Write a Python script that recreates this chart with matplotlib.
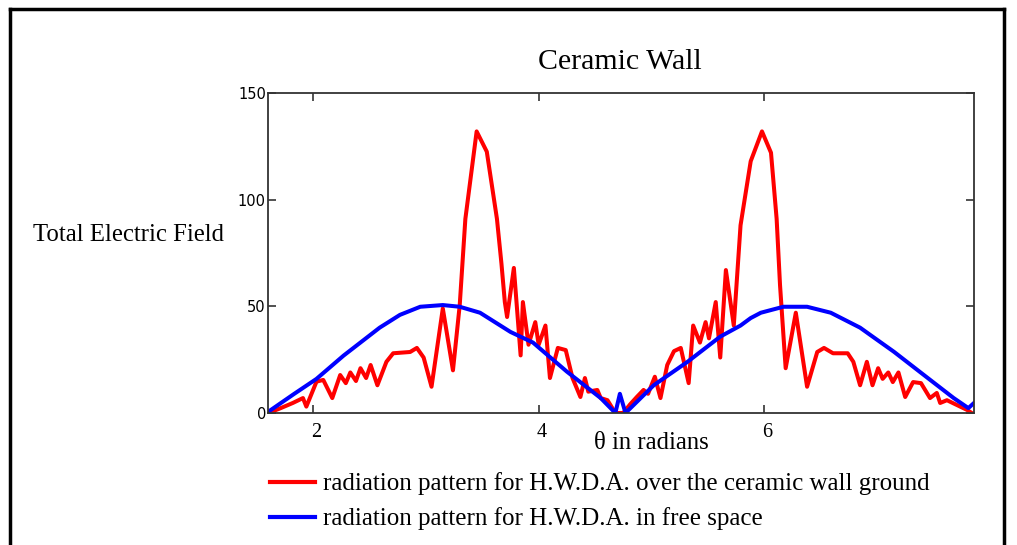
import matplotlib
matplotlib.use("Agg")
import matplotlib.pyplot as plt
from matplotlib.lines import Line2D
from matplotlib.transforms import ScaledTranslation

# ---- data ----
red_x = [1.60, 1.70, 1.82, 1.91, 1.94, 2.03, 2.09, 2.17, 2.24, 2.29, 2.33, 2.38, 2.42, 2.47,
         2.51, 2.57, 2.65, 2.71, 2.86, 2.92, 2.98, 3.05, 3.15, 3.24, 3.30, 3.35, 3.45, 3.54,
         3.63, 3.67, 3.70, 3.72, 3.78, 3.84, 3.86, 3.91, 3.97, 4.00, 4.06, 4.10, 4.17, 4.24,
         4.30, 4.37, 4.41, 4.44, 4.52, 4.55, 4.61, 4.68,
         4.75, 4.81, 4.87, 4.93, 4.97, 5.03, 5.08, 5.14, 5.20, 5.26, 5.33, 5.37, 5.43, 5.48,
         5.51, 5.57, 5.61, 5.66, 5.73, 5.79, 5.88, 5.98, 6.06, 6.11, 6.14, 6.19, 6.28, 6.38,
         6.47, 6.53, 6.61, 6.74, 6.79, 6.85, 6.91, 6.96, 7.01, 7.05, 7.10, 7.14, 7.19, 7.25,
         7.32, 7.39, 7.47, 7.53, 7.56, 7.62, 7.71, 7.80, 7.84]
red_y = [0, 2, 4.7, 7, 3, 14.7, 15.5, 7, 17.8, 14, 19, 15, 21, 16.4,
         22.5, 13, 24, 28, 28.6, 30.5, 26, 12.3, 49, 20, 50.6, 91, 132, 122.5,
         91, 70, 52, 45, 68, 27, 52, 32, 42.6, 32, 41, 16.4, 30.5, 29.5,
         16.4, 7.5, 16.4, 10, 10.8, 7, 6, 0,
         0, 4, 7.5, 10.8, 9, 17, 7, 22.5, 29, 30.5, 14, 41, 33, 42.6,
         35, 52, 26, 67, 41, 88, 118, 132, 122, 91, 60, 21, 47, 12.3,
         28.6, 30.5, 28, 28, 24, 13, 24, 13, 21, 16, 19, 14.5, 19, 7.5,
         14.5, 14, 7, 9.4, 4.7, 6, 3.7, 1.4, 0]

blue_x = [1.60, 1.83, 2.03, 2.27, 2.59, 2.77, 2.95, 3.15, 3.30, 3.48, 3.66, 3.75, 3.95,
          4.25, 4.55, 4.68, 4.72, 4.77, 5.02, 5.32, 5.61, 5.79, 5.88, 5.97, 6.17, 6.38,
          6.59, 6.85, 6.94, 7.15, 7.45, 7.68, 7.81, 7.86]
blue_y = [0.5, 8.9, 16, 26.9, 40, 46, 49.8, 50.6, 49.8, 47, 41, 38, 33,
          19.4, 7, 0, 9, 0, 13, 24, 35.8, 41, 44.5, 47, 49.8, 49.8,
          47, 40, 36.6, 28.7, 16.4, 7, 2.3, 4.7]

x_ticks = [2, 4, 6]
y_ticks = [0, 50, 100, 150]
title = "Ceramic Wall"
y_label = "Total Electric Field"
x_label = "\u03b8 in radians"
red_label = "radiation pattern for H.W.D.A. over the ceramic wall ground"
blue_label = "radiation pattern for H.W.D.A. in free space"

W, H = 1017, 545
fig = plt.figure(figsize=(W / 100, H / 100), dpi=100)
serif = "Liberation Serif"

ax = fig.add_axes([268 / W, 1 - 413 / H, (974 - 268) / W, (413 - 93) / H])
ax.plot(red_x, red_y, color="#ff0000", lw=2.9, solid_joinstyle="round", label=red_label)
ax.plot(blue_x, blue_y, color="#0000ff", lw=2.9, solid_joinstyle="round", label=blue_label)
ax.set_xlim(1.6, 7.86)
ax.set_ylim(0, 150)
ax.set_xticks(x_ticks)
ax.set_yticks(y_ticks)
ax.set_xticklabels([str(t) for t in x_ticks], family=serif, fontsize=14.5)
ax.set_yticklabels([str(t) for t in y_ticks], family="DejaVu Sans", fontsize=10.5)
ax.tick_params(direction="in", length=6, width=1.2, color="#333333",
               top=True, right=True)
ax.tick_params(axis="y", pad=1.5)
ax.tick_params(axis="x", pad=7)
shift = ScaledTranslation(3 / 100, 0, fig.dpi_scale_trans)
for lab in ax.get_xticklabels():
    lab.set_transform(lab.get_transform() + shift)
for s in ax.spines.values():
    s.set_color("#333333")
    s.set_linewidth(1.3)

fig.text(620 / W, 1 - 62 / H, title, family=serif, fontsize=21.5, ha="center", va="center")
fig.text(33 / W, 1 - 235 / H, y_label, family=serif, fontsize=17.8, ha="left", va="center")
fig.text(651 / W, 1 - 443 / H, x_label, family=serif, fontsize=17.8, ha="center", va="center")

# legend
for yy, col, lab in [(482, "#ff0000", red_label), (517, "#0000ff", blue_label)]:
    fig.add_artist(Line2D([270 / W, 315 / W], [1 - yy / H, 1 - yy / H], color=col, lw=3))
    fig.text(323 / W, 1 - (yy + 2) / H, lab, family=serif, fontsize=18, ha="left", va="center")

# outer frame
fig.add_artist(Line2D([10 / W, 1004 / W], [1 - 9 / H, 1 - 9 / H], color="black", lw=2.5))
fig.add_artist(Line2D([10 / W, 10 / W], [1 - 9 / H, 0], color="black", lw=2.5))
fig.add_artist(Line2D([1004 / W, 1004 / W], [1 - 9 / H, 0], color="black", lw=2.5))

fig.savefig("out.png", dpi=100)
